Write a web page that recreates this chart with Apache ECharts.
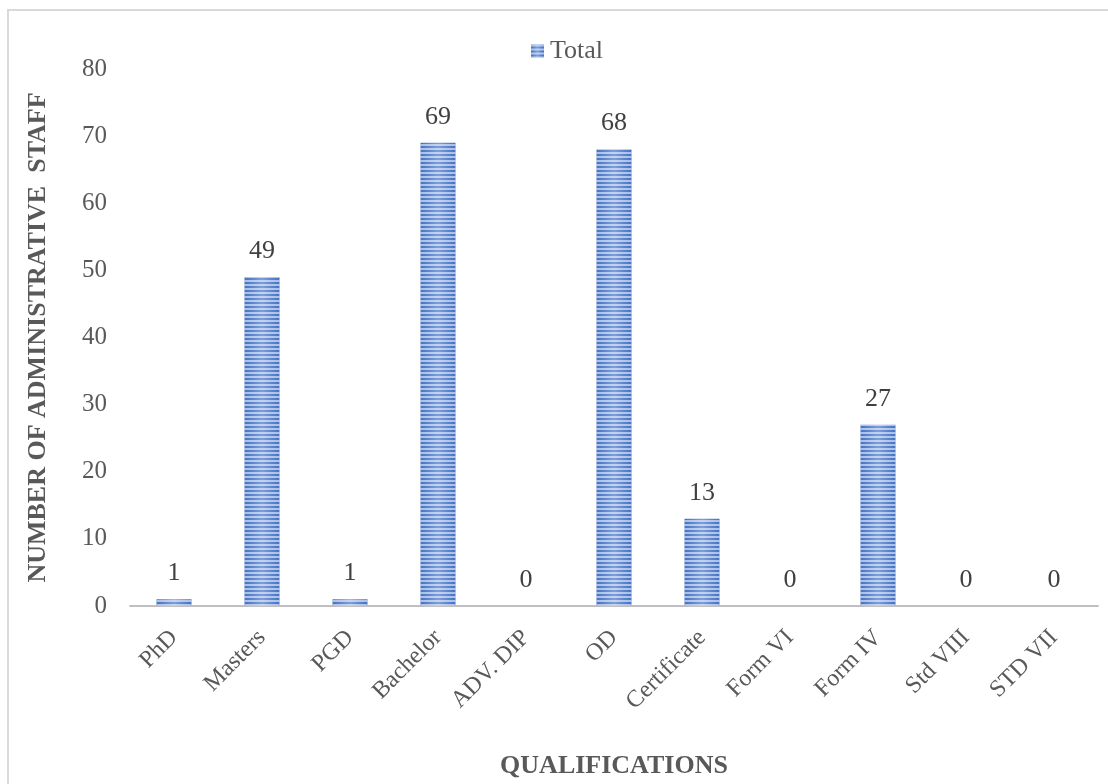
<!DOCTYPE html>
<html>
<head>
<meta charset="utf-8">
<script src="https://cdn.jsdelivr.net/npm/echarts@6/dist/echarts.min.js"></script>
<style>
  html, body { margin: 0; padding: 0; background: #fff; overflow: hidden; }
  #chart { width: 1108px; height: 784px; }
</style>
</head>
<body>
<div id="chart"></div>
<script>
// Qualifications of administrative staff
const categories = ['PhD', 'Masters', 'PGD', 'Bachelor', 'ADV. DIP', 'OD', 'Certificate', 'Form VI', 'Form IV', 'Std VIII', 'STD VII'];
const totals = [1, 49, 1, 69, 0, 68, 13, 0, 27, 0, 0];
const yTicks = { min: 0, max: 80, interval: 10 };

const serif = '"Liberation Serif", "Times New Roman", serif';
const grey = '#595959';

// striped blue fill: horizontal gradient with light horizontal bands on top
const barFill = {
  type: 'linear', x: 0, y: 0, x2: 1, y2: 0,
  colorStops: [
    { offset: 0, color: '#4472c4' },
    { offset: 0.5, color: '#7c9edc' },
    { offset: 1, color: '#4472c4' }
  ]
};
const stripes = {
  symbol: 'rect',
  symbolSize: 1,
  dashArrayX: [1, 0],
  dashArrayY: [2, 2],
  rotation: 0,
  color: 'rgba(255,255,255,0.55)'
};

const chart = echarts.init(document.getElementById('chart'), null, { renderer: 'canvas' });
chart.setOption({
  animation: false,
  backgroundColor: '#fff',
  graphic: [{
    type: 'rect',
    shape: { x: 8, y: 10, width: 1200, height: 900 },
    style: { fill: 'none', stroke: '#d9d9d9', lineWidth: 2 },
    silent: true
  }],
  legend: {
    top: 38,
    left: 531,
    padding: 0,
    itemWidth: 13,
    itemHeight: 13,
    itemGap: 6,
    textStyle: { fontFamily: serif, fontSize: 26, color: grey, padding: [0, 0, 0, 1] },
    data: [{ name: 'Total', icon: 'rect' }]
  },
  grid: {
    left: 130, width: 968, top: 69, height: 537,
    containLabel: false,
    outerBoundsMode: 'none'
  },
  xAxis: {
    type: 'category',
    data: categories,
    name: 'QUALIFICATIONS',
    nameLocation: 'middle',
    nameGap: 147,
    nameTextStyle: { fontFamily: serif, fontSize: 26, fontWeight: 'bold', color: grey },
    axisLine: { lineStyle: { color: '#c0c0c0', width: 2 } },
    axisTick: { show: false },
    axisLabel: {
      rotate: 45,
      margin: 28,
      interval: 0,
      fontFamily: serif,
      fontSize: 24,
      color: grey
    }
  },
  yAxis: {
    type: 'value',
    min: yTicks.min,
    max: yTicks.max,
    interval: yTicks.interval,
    name: 'NUMBER OF ADMINISTRATIVE  STAFF',
    nameLocation: 'middle',
    nameGap: 79,
    nameRotate: 90,
    nameTextStyle: { fontFamily: serif, fontSize: 26, fontWeight: 'bold', color: grey },
    axisLine: { show: false },
    axisTick: { show: false },
    splitLine: { show: false },
    axisLabel: { margin: 23, fontFamily: serif, fontSize: 25, color: grey }
  },
  series: [{
    name: 'Total',
    type: 'bar',
    data: totals,
    barWidth: 35,
    itemStyle: { color: barFill, decal: stripes },
    label: {
      show: true,
      position: 'top',
      distance: 13,
      fontFamily: serif,
      fontSize: 26,
      color: '#404040'
    }
  }]
});
</script>
</body>
</html>
